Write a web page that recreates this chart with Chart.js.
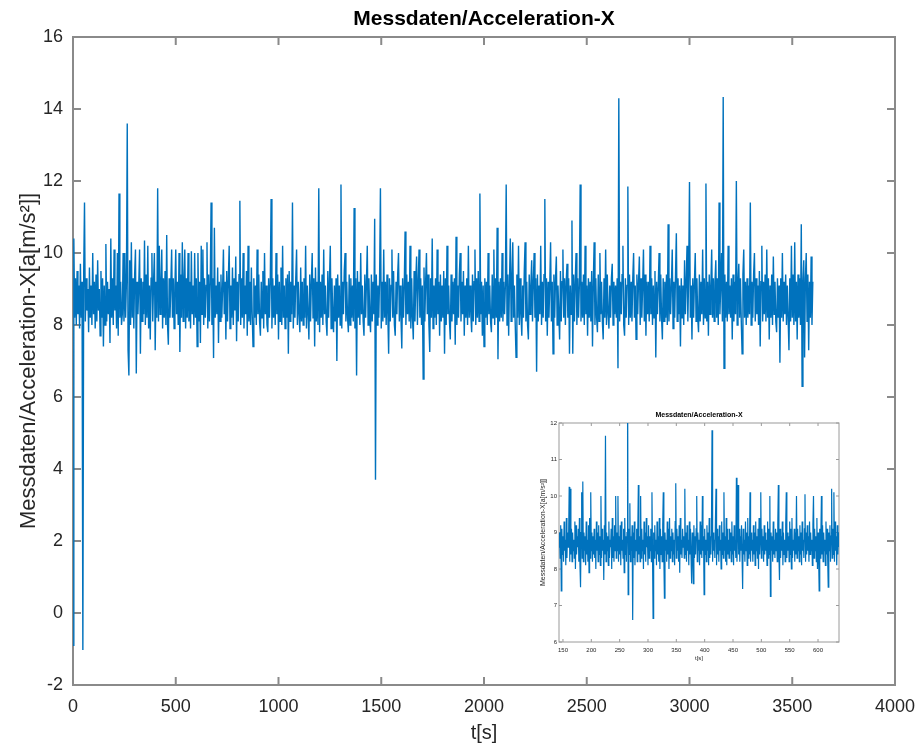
<!DOCTYPE html>
<html><head><meta charset="utf-8">
<script src="https://cdn.jsdelivr.net/npm/chart.js@4.4.1/dist/chart.umd.min.js"></script>
<style>
html,body{margin:0;padding:0;background:#fff;}
#wrap{position:relative;width:917px;height:749px;overflow:hidden;background:#fff;}
#main{position:absolute;left:0;top:0;}
#inset{position:absolute;left:533px;top:405px;background:#fff;}
</style></head><body>
<div id="wrap"><canvas id="main" width="917" height="749"></canvas><canvas id="inset" width="316" height="262"></canvas></div>
<script>
// ---------- data ----------
const TITLE = 'Messdaten/Acceleration-X';
const Y_LABEL = 'Messdaten/Acceleration-X[a[m/s²]]';
const X_LABEL = 't[s]';

// main record: one sample every 4 s starting at t = 0 s
const MAIN_START = 0;
const MAIN_STEP = 4;
const accelX = [
  -0.9, 10.4, 8.2, 9.3, 8.0, 9.5, 8.3, 9.1, 7.9, 9.7, 8.2, 9.2, -1.03, 9.4, 11.4, 8.1, 9.3, 8.4, 9.0, 7.8,
  9.6, 8.2, 9.1, 8.0, 10.0, 8.3, 9.2, 7.9, 9.4, 8.1, 9.8, 8.4, 9.0, 7.7, 9.5, 8.2, 9.3, 7.4, 9.1, 8.0,
  10.25, 8.1, 9.2, 8.3, 9.0, 7.5, 10.4, 8.2, 9.3, 8.0, 10.1, 8.4, 9.1, 7.9, 10.0, 7.7, 11.65, 8.2, 9.2, 8.0,
  8.3, 10.0, 8.1, 10.0, 8.2, 9.2, 13.6, 7.3, 6.6, 9.8, 8.0, 10.3, 8.2, 9.3, 7.9, 9.4, 10.1, 6.65, 9.2, 8.3,
  9.1, 10.1, 7.2, 9.3, 8.1, 9.2, 8.3, 10.35, 8.0, 9.4, 8.2, 10.2, 7.9, 9.1, 7.6, 9.3, 10.0, 8.1, 9.2, 10.0,
  7.3, 9.2, 8.2, 11.8, 8.1, 10.2, 8.3, 9.1, 10.1, 7.9, 9.3, 8.2, 9.5, 8.0, 10.5, 8.0, 7.45, 9.3, 8.2, 9.1,
  10.1, 8.2, 9.3, 7.9, 9.1, 10.1, 8.3, 9.2, 8.0, 10.0, 7.25, 9.4, 8.2, 10.3, 8.1, 9.2, 10.1, 7.9, 9.3, 8.2,
  10.0, 8.1, 9.2, 7.9, 10.05, 8.3, 9.1, 8.0, 10.0, 8.2, 9.3, 7.4, 10.0, 8.1, 9.2, 7.5, 10.2, 8.3, 10.1, 8.0,
  9.3, 8.2, 9.1, 10.3, 7.9, 9.4, 8.1, 9.2, 11.4, 8.0, 9.3, 7.08, 10.7, 8.2, 9.1, 8.3, 9.6, 7.5, 9.2, 8.1,
  9.4, 8.2, 9.0, 10.1, 8.3, 9.2, 7.6, 9.5, 8.1, 9.3, 10.2, 7.9, 9.1, 8.2, 9.6, 8.0, 9.3, 8.4, 9.9, 7.55,
  9.2, 8.1, 9.4, 11.45, 8.0, 9.3, 8.2, 10.0, 7.9, 9.1, 8.3, 9.5, 7.7, 10.2, 8.1, 9.2, 8.0, 9.6, 8.3, 7.4,
  9.3, 8.2, 9.1, 8.0, 10.1, 8.3, 9.4, 8.1, 7.7, 9.2, 8.2, 9.5, 7.9, 10.0, 8.3, 9.1, 8.0, 7.8, 9.3, 8.2,
  9.2, 11.5, 7.9, 9.3, 8.2, 9.1, 8.0, 10.0, 8.3, 9.4, 7.6, 9.2, 8.1, 9.6, 8.0, 10.2, 8.2, 9.1, 7.9, 9.3,
  8.2, 9.4, 7.2, 9.5, 8.1, 9.2, 8.3, 11.4, 7.9, 9.1, 8.2, 9.3, 10.1, 8.0, 9.2, 8.3, 7.8, 9.6, 8.1, 9.2,
  8.0, 9.3, 8.2, 10.2, 7.9, 9.1, 8.3, 7.6, 9.4, 8.1, 9.2, 10.0, 8.2, 9.3, 7.4, 9.6, 8.1, 9.2, 8.0, 11.8,
  7.8, 9.2, 8.2, 9.4, 8.0, 10.1, 8.3, 9.1, 8.1, 7.7, 9.5, 8.2, 9.2, 10.2, 7.9, 9.3, 8.3, 7.8, 9.1, 8.1,
  9.3, 7.0, 9.4, 8.2, 9.1, 8.0, 11.9, 7.9, 9.2, 8.3, 9.5, 10.0, 8.1, 9.2, 8.2, 7.8, 9.4, 8.0, 9.3, 8.2,
  9.1, 8.1, 11.25, 7.9, 9.3, 6.6, 9.5, 8.2, 9.2, 8.0, 10.0, 8.3, 9.1, 8.1, 7.7, 9.4, 8.2, 9.2, 10.2, 8.0,
  9.3, 8.2, 7.8, 9.4, 8.1, 9.2, 8.3, 10.95, 3.7, 9.4, 8.0, 9.1, 8.2, 9.3, 11.8, 7.9, 9.2, 8.1, 10.1, 8.2,
  9.2, 8.0, 9.4, 8.3, 7.2, 9.3, 8.1, 9.1, 10.1, 8.2, 9.5, 8.0, 7.7, 9.2, 8.3, 9.4, 10.0, 8.1, 9.1, 8.2,
  7.35, 9.3, 8.2, 9.1, 10.6, 8.0, 9.4, 8.3, 9.2, 8.1, 10.2, 7.9, 9.3, 8.2, 7.6, 9.5, 8.1, 9.2, 9.9, 8.0,
  9.2, 10.1, 8.2, 9.3, 8.0, 9.1, 6.5, 9.6, 8.1, 9.2, 10.0, 8.3, 9.4, 8.0, 7.25, 9.3, 8.2, 10.4, 7.9, 9.1,
  8.2, 9.3, 8.0, 10.1, 8.3, 9.2, 7.7, 9.4, 8.1, 9.1, 8.2, 9.5, 7.2, 9.3, 8.0, 10.2, 8.3, 9.1, 8.1, 7.6,
  9.4, 8.1, 9.2, 8.3, 9.3, 7.45, 10.45, 8.0, 9.1, 8.2, 9.4, 10.0, 8.1, 9.2, 8.3, 9.5, 7.7, 9.1, 8.2, 9.3,
  8.0, 10.2, 8.2, 9.1, 8.3, 7.8, 9.4, 8.1, 9.2, 10.1, 8.0, 9.3, 8.2, 9.5, 8.1, 11.65, 8.3, 9.2, 7.7, 9.1,
  7.4, 9.3, 8.2, 9.2, 8.0, 10.0, 8.3, 9.1, 8.1, 7.8, 9.4, 8.2, 10.1, 8.0, 9.3, 8.2, 10.7, 7.05, 9.2, 8.1,
  9.3, 8.2, 10.0, 8.1, 9.2, 8.3, 9.1, 11.9, 8.0, 9.4, 7.7, 9.2, 10.4, 8.1, 9.3, 10.3, 8.2, 9.1, 8.0, 7.1,
  9.4, 8.2, 10.2, 8.0, 9.3, 8.3, 7.7, 9.1, 8.2, 9.5, 10.3, 8.1, 9.2, 8.0, 7.6, 9.4, 8.3, 9.1, 9.8, 8.1,
  9.2, 10.0, 8.2, 9.3, 6.7, 9.4, 8.1, 9.1, 8.3, 10.2, 8.0, 9.2, 8.2, 9.4, 11.5, 8.1, 9.3, 7.7, 9.2, 8.2,
  9.1, 10.3, 8.1, 9.2, 7.2, 9.4, 8.2, 9.3, 9.9, 8.0, 9.1, 8.3, 7.6, 9.5, 8.1, 9.2, 10.1, 8.2, 9.3, 8.0,
  9.2, 9.7, 8.2, 9.3, 7.2, 9.1, 8.3, 10.9, 7.2, 9.4, 8.1, 9.2, 10.0, 8.0, 9.3, 8.2, 9.1, 11.9, 8.1, 9.2,
  8.2, 9.4, 8.0, 10.2, 8.3, 9.1, 7.7, 9.3, 8.2, 9.2, 8.1, 9.5, 7.4, 9.2, 10.3, 8.0, 9.3, 8.2, 7.8, 9.4,
  8.1, 10.0, 8.3, 9.2, 8.1, 7.6, 9.3, 8.2, 10.1, 8.0, 9.4, 8.3, 7.9, 9.1, 8.2, 9.3, 9.7, 8.0, 9.2, 8.3,
  9.1, 8.2, 9.3, 6.8, 14.3, 8.1, 9.2, 8.3, 9.4, 10.2, 8.0, 7.7, 9.3, 8.2, 9.1, 11.85, 8.0, 9.4, 8.2, 9.2,
  8.1, 9.3, 10.0, 8.2, 9.1, 7.6, 9.4, 8.3, 9.2, 9.9, 8.0, 9.3, 8.2, 9.1, 10.1, 8.1, 9.4, 7.7, 9.2, 8.3,
  9.2, 8.1, 10.2, 8.3, 9.3, 8.0, 9.1, 8.2, 9.5, 7.1, 9.2, 8.3, 9.1, 10.0, 8.1, 9.4, 8.2, 7.6, 9.3, 8.1,
  9.2, 8.2, 9.4, 8.0, 10.8, 8.1, 9.3, 8.3, 9.1, 10.1, 7.9, 9.2, 8.2, 9.4, 10.55, 8.1, 9.3, 8.3, 9.1, 7.4,
  9.3, 8.2, 9.1, 8.0, 9.8, 8.3, 9.2, 10.2, 8.1, 9.4, 11.97, 8.2, 9.1, 7.6, 9.3, 8.2, 9.2, 10.0, 8.1, 9.3,
  8.2, 7.8, 9.4, 8.1, 9.2, 8.3, 10.1, 8.0, 9.3, 8.2, 11.93, 8.1, 9.2, 7.7, 9.4, 8.3, 9.1, 10.1, 8.2, 9.3,
  8.1, 9.2, 9.8, 8.2, 9.3, 8.0, 11.4, 8.3, 9.1, 10.0, 8.1, 14.33, 6.8, 9.4, 8.2, 9.2, 8.1, 10.2, 8.3, 9.1,
  8.2, 9.3, 7.6, 9.4, 8.1, 9.2, 8.3, 12.0, 8.0, 9.1, 9.7, 8.2, 9.3, 8.1, 7.2, 9.4, 10.1, 8.2, 9.2, 8.0,
  9.3, 8.2, 9.1, 8.3, 11.4, 8.0, 9.2, 8.2, 9.4, 10.0, 8.1, 9.3, 8.3, 9.1, 8.0, 9.5, 7.4, 9.2, 10.2, 8.1,
  9.2, 8.3, 9.4, 8.1, 10.1, 8.2, 9.3, 7.6, 9.1, 8.2, 9.4, 8.0, 9.9, 8.3, 9.2, 8.1, 7.8, 9.3, 8.2, 9.1,
  6.95, 9.3, 8.2, 10.0, 8.1, 9.2, 8.3, 9.4, 8.0, 9.1, 8.2, 7.3, 9.3, 8.1, 10.2, 8.2, 9.4, 8.0, 10.3, 8.1,
  9.2, 7.6, 9.4, 8.2, 9.3, 8.0, 10.8, 6.3, 9.2, 9.8, 7.1, 9.3, 10.0, 8.1, 9.4, 7.3, 9.2, 8.2, 9.9, 8.0,
  9.2
];

// inset (zoomed window 143 s .. 637 s): one sample every 1 s
const INSET_START = 143;
const INSET_STEP = 1;
const insetAccelX = [
  8.6, 9.0, 8.3, 9.2, 7.4, 9.1, 8.4, 8.9, 8.2, 9.3, 8.5, 8.8, 8.1, 9.4, 8.3, 9.0, 8.6, 8.9, 10.25, 8.2,
  10.2, 8.4, 9.1, 8.2, 9.0, 8.5, 8.8, 8.3, 9.3, 8.0, 9.2, 8.4, 8.9, 8.6, 9.1, 8.2, 9.4, 8.1, 7.5, 9.0,
  10.1, 8.3, 10.4, 8.2, 9.0, 8.5, 8.9, 8.1, 9.3, 8.4, 8.8, 8.2, 9.2, 7.9, 9.4, 8.3, 10.1, 8.5, 9.0, 8.2,
  8.9, 8.4, 9.1, 8.3, 8.8, 8.0, 9.3, 8.5, 9.0, 8.2, 9.2, 8.4, 8.9, 8.1, 10.0, 8.3, 9.1, 8.5, 8.8, 7.7,
  9.2, 8.4, 11.65, 8.2, 9.0, 8.5, 8.9, 8.1, 9.3, 8.3, 8.8, 8.6, 9.1, 8.0, 9.4, 8.3, 8.9, 8.2, 9.2, 8.5,
  10.0, 8.3, 9.0, 8.5, 10.0, 8.2, 8.9, 8.4, 9.2, 8.1, 9.3, 8.5, 8.8, 8.3, 9.1, 7.9, 9.4, 8.4, 8.9, 8.2,
  9.0, 13.6, 7.3, 9.1, 8.4, 9.8, 8.2, 8.9, 8.5, 9.2, 6.6, 9.0, 8.3, 9.3, 8.1, 8.8, 8.5, 9.1, 8.2, 9.0,
  10.3, 8.4, 8.9, 8.2, 10.0, 8.3, 9.1, 8.5, 8.8, 8.0, 9.3, 8.4, 9.0, 8.2, 9.4, 8.6, 8.9, 8.1, 9.2, 8.3,
  8.9, 8.5, 9.1, 8.2, 10.1, 8.4, 6.65, 9.0, 8.3, 9.2, 8.5, 8.8, 8.1, 9.3, 8.4, 8.9, 8.2, 9.4, 8.0, 9.1,
  8.4, 8.9, 8.2, 9.2, 10.1, 8.3, 7.2, 9.0, 8.5, 8.8, 8.2, 9.3, 8.4, 9.1, 8.0, 9.4, 8.3, 8.9, 8.5, 9.1,
  8.2, 9.0, 8.4, 8.8, 8.1, 9.3, 10.35, 8.3, 9.1, 8.5, 8.9, 8.2, 9.2, 7.9, 9.4, 8.4, 8.8, 8.3, 9.1, 8.6,
  8.9, 8.3, 10.2, 8.4, 9.0, 8.2, 9.2, 8.5, 8.8, 8.1, 9.3, 8.4, 9.1, 8.3, 7.6, 9.0, 8.5, 7.6, 9.2, 8.3,
  8.9, 8.4, 9.1, 10.0, 8.2, 9.0, 8.5, 8.8, 8.1, 9.3, 8.4, 9.2, 8.3, 10.0, 8.5, 8.9, 7.3, 9.1, 8.4, 8.8,
  8.2, 9.2, 8.5, 9.0, 8.1, 9.4, 8.3, 8.9, 8.4, 9.1, 11.8, 8.2, 9.0, 8.5, 8.8, 8.3, 9.3, 10.2, 8.1, 9.1,
  8.4, 8.9, 8.2, 9.2, 8.5, 8.8, 8.0, 9.3, 8.4, 9.0, 8.3, 10.1, 8.5, 8.9, 8.2, 9.4, 8.1, 9.1, 8.4, 8.8,
  8.3, 9.1, 8.5, 9.0, 8.2, 9.3, 8.4, 8.9, 8.1, 9.2, 8.5, 8.8, 8.3, 10.5, 8.2, 9.0, 10.3, 8.4, 9.1, 8.2,
  8.9, 8.5, 9.2, 8.3, 7.45, 9.1, 8.4, 8.8, 8.2, 9.3, 8.5, 9.0, 8.1, 9.4, 8.3, 8.9, 8.4, 10.1, 8.2, 9.0,
  8.5, 8.8, 8.2, 9.2, 8.4, 9.0, 8.1, 9.3, 8.5, 8.9, 8.3, 9.1, 8.0, 9.4, 8.4, 8.8, 10.1, 8.3, 9.1, 8.5,
  8.9, 8.2, 9.2, 8.4, 9.0, 8.5, 8.8, 8.1, 9.3, 8.3, 9.1, 8.4, 10.0, 7.25, 9.0, 8.5, 8.9, 8.2, 9.3, 8.4,
  8.8, 8.3, 9.1, 8.5, 9.0, 8.2, 9.2, 10.3, 8.4, 7.7, 9.1, 8.3, 8.9, 8.5, 9.3, 8.1, 9.0, 8.4, 8.8, 8.2,
  9.2, 10.1, 8.3, 9.0, 8.5, 8.9, 8.2, 9.3, 8.4, 9.1, 8.0, 9.4, 8.3, 8.8, 8.5, 9.1, 8.2, 9.0, 8.4, 10.0,
  8.3, 9.1, 8.5, 8.9, 8.2, 9.2, 8.4, 9.0, 8.1, 9.3, 8.5, 8.8, 8.3, 9.1, 10.05, 8.2, 9.0, 8.4, 9.2, 8.5,
  8.9, 8.2, 9.3, 8.4, 9.0, 8.5, 8.8, 8.1, 9.2, 10.0, 8.3, 9.1, 8.5, 8.9, 8.2, 9.4, 8.0, 9.0, 8.4, 7.4,
  9.1, 8.3, 8.9, 10.0, 8.4, 9.2, 8.2, 9.0, 8.5, 8.8, 8.1, 9.3, 8.4, 9.1, 8.3, 7.5, 9.0, 8.5, 9.2, 8.2,
  8.9, 10.2, 8.3, 9.1, 8.4, 10.1, 8.2, 9.3, 8.5, 8.9, 8.1, 9.2, 8.4, 9.0, 8.6
];

// axis ranges and tick labels
const mainXTicks = [0, 500, 1000, 1500, 2000, 2500, 3000, 3500, 4000];
const mainYTicks = [-2, 0, 2, 4, 6, 8, 10, 12, 14, 16];
const insetXTicks = [150, 200, 250, 300, 350, 400, 450, 500, 550, 600];
const insetYTicks = [6, 7, 8, 9, 10, 11, 12];

// ---------- styles ----------
const LINE_COLOR = '#0072BD';
const TEXT_COLOR = '#262626';
const AXIS_COLOR = '#8a8a8a';
const FONT = '"Liberation Sans", Arial, Helvetica, sans-serif';

const mainPoints = accelX.map((v, i) => ({ x: MAIN_START + i * MAIN_STEP, y: v }));
const insetPoints = insetAccelX.map((v, i) => ({ x: INSET_START + i * INSET_STEP, y: v }));

// MATLAB-like box with inward tick marks on all four sides
const matlabBox = {
  id: 'matlabBox',
  beforeDatasetsDraw(chart, args, opts) {
    const { ctx, chartArea: a, scales: { x, y } } = chart;
    ctx.save();
    ctx.strokeStyle = opts.color;
    ctx.lineWidth = opts.width;
    ctx.beginPath();
    x.ticks.forEach(t => {
      const px = x.getPixelForValue(t.value);
      ctx.moveTo(px, a.bottom); ctx.lineTo(px, a.bottom - opts.len);
      ctx.moveTo(px, a.top); ctx.lineTo(px, a.top + opts.len);
    });
    y.ticks.forEach(t => {
      const py = y.getPixelForValue(t.value);
      ctx.moveTo(a.left, py); ctx.lineTo(a.left + opts.len, py);
      ctx.moveTo(a.right, py); ctx.lineTo(a.right - opts.len, py);
    });
    ctx.stroke();
    ctx.strokeRect(a.left, a.top, a.right - a.left, a.bottom - a.top);
    ctx.restore();
  }
};

function tickSetter(list) {
  return s => { s.ticks = list.map(v => ({ value: v })); };
}
function fixX(h) {
  return s => { s.height = h; s.paddingLeft = 0; s.paddingRight = 0; };
}
function fixY(w) {
  return s => { s.width = w; s.paddingTop = 0; s.paddingBottom = 0; };
}

// ---------- main chart ----------
new Chart(document.getElementById('main'), {
  type: 'line',
  data: { datasets: [{ data: mainPoints, borderColor: LINE_COLOR, borderWidth: 1.4,
    pointRadius: 0, fill: false, tension: 0 }] },
  options: {
    responsive: false, animation: false, events: [],
    layout: { padding: { left: 0, right: 22, top: 0, bottom: 0 } },
    plugins: {
      legend: { display: false }, tooltip: { enabled: false },
      title: { display: true, fullSize: false, text: TITLE, color: '#000',
        font: { family: FONT, size: 21, weight: 'bold', lineHeight: 1.2 },
        padding: { top: 6.4, bottom: 5.4 } },
      matlabBox: { color: AXIS_COLOR, width: 2, len: 8 }
    },
    scales: {
      x: {
        type: 'linear', min: 0, max: 4000,
        afterBuildTicks: tickSetter(mainXTicks),
        afterFit: fixX(64),
        grid: { display: false, drawTicks: false }, border: { display: false },
        ticks: { color: TEXT_COLOR, font: { family: FONT, size: 18 }, padding: 11,
          maxRotation: 0, autoSkip: false, callback: v => String(v) },
        title: { display: true, text: X_LABEL, color: TEXT_COLOR,
          font: { family: FONT, size: 20 }, padding: { top: 0, bottom: 4 } }
      },
      y: {
        type: 'linear', min: -2, max: 16,
        afterBuildTicks: tickSetter(mainYTicks),
        afterFit: fixY(73),
        grid: { display: false, drawTicks: false }, border: { display: false },
        ticks: { color: TEXT_COLOR, font: { family: FONT, size: 18 }, padding: 10,
          autoSkip: false, callback: v => String(v) },
        title: { display: true, text: Y_LABEL, color: TEXT_COLOR,
          font: { family: FONT, size: 22 }, padding: { top: 15.8, bottom: 0 } }
      }
    }
  },
  plugins: [matlabBox]
});

// ---------- inset chart ----------
new Chart(document.getElementById('inset'), {
  type: 'line',
  data: { datasets: [{ data: insetPoints, borderColor: LINE_COLOR, borderWidth: 1.2,
    pointRadius: 0, fill: false, tension: 0, clip: 0 }] },
  options: {
    responsive: false, animation: false, events: [],
    layout: { padding: { left: 0, right: 10, top: 0, bottom: 0 } },
    plugins: {
      legend: { display: false }, tooltip: { enabled: false },
      title: { display: true, fullSize: false, text: TITLE, color: '#000',
        font: { family: FONT, size: 7, weight: 'bold', lineHeight: 1.2 },
        padding: { top: 5.8, bottom: 3.8 } },
      matlabBox: { color: '#9a9a9a', width: 1, len: 3 }
    },
    scales: {
      x: {
        type: 'linear', min: 143, max: 637,
        afterBuildTicks: tickSetter(insetXTicks),
        afterFit: fixX(25),
        grid: { display: false, drawTicks: false }, border: { display: false },
        ticks: { color: TEXT_COLOR, font: { family: FONT, size: 6 }, padding: 5,
          maxRotation: 0, autoSkip: false, callback: v => String(v) },
        title: { display: true, text: X_LABEL, color: TEXT_COLOR,
          font: { family: FONT, size: 6 }, padding: { top: 0, bottom: 5.4 } }
      },
      y: {
        type: 'linear', min: 6, max: 12,
        afterBuildTicks: tickSetter(insetYTicks),
        afterFit: fixY(26),
        grid: { display: false, drawTicks: false }, border: { display: false },
        ticks: { color: TEXT_COLOR, font: { family: FONT, size: 6 }, padding: 2,
          autoSkip: false, callback: v => String(v) },
        title: { display: true, text: Y_LABEL, color: TEXT_COLOR,
          font: { family: FONT, size: 7 }, padding: { top: 5.8, bottom: 0 } }
      }
    }
  },
  plugins: [matlabBox]
});
</script>
</body></html>
